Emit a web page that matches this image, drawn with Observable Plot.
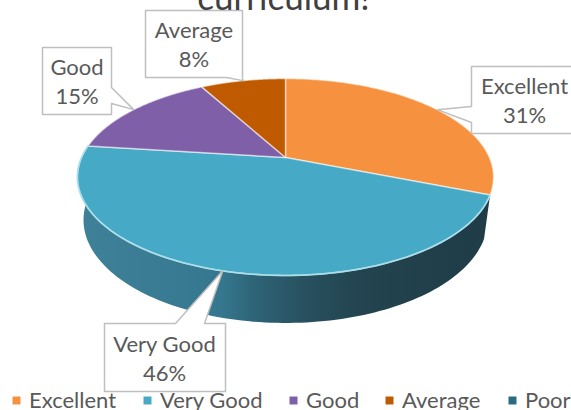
<!DOCTYPE html>
<html>
<head>
<meta charset="utf-8">
<script src="https://cdn.jsdelivr.net/npm/d3@7"></script>
<script src="https://cdn.jsdelivr.net/npm/@observablehq/plot@0.6"></script>
<style>html,body{margin:0;padding:0;background:#fff;overflow:hidden}svg{display:block}</style>
</head>
<body>
<div id="chart"></div>
<script>
const categories = ["Excellent", "Very Good", "Good", "Average", "Poor"];
const percents = [31, 46, 15, 8, 0];
const colors = ["#f6923f", "#46a9c6", "#7f60a8", "#c05a00", "#2a6b80"];
const titleText = "curriculum!";

// Drawing layout (separate from the data)
const W = 571, H = 410;
const top3d = {cx: 285, cy: 157, a: 204, b: 94.6, k: 0.198};
const bottom3d = {cx: 285, cy: 199, a: 198, b: 99, k: 0.198};
const callouts = {
  "Excellent": {x1: 471, x2: 574, y1: 66, y2: 133, tx: 524, side: "left", t1: 106, t2: 122},
  "Very Good": {x1: 104, x2: 225, y1: 323, y2: 391, tx: 164, side: "top", t1: 175, t2: 204},
  "Good": {x1: 42, x2: 111, y1: 47, y2: 114, tx: 76.5, side: "right", t1: 87, t2: 103},
  "Average": {x1: 145, x2: 242, y1: 10, y2: 77, tx: 193.5, side: "bottom", t1: 226, t2: 242}
};
const legendAt = {"Excellent": 16, "Very Good": 147, "Good": 293, "Average": 389, "Poor": 512};

const project = (g, theta) => {
  const u = Math.sin(theta), v = -Math.cos(theta), s = 1 / (1 - g.k * v);
  return [g.cx + g.a * u * s, g.cy + g.b * v * s];
};

// Angles clockwise from 12 o'clock, from the percentages
const arcs = d3.pie().sort(null).value(d => d)(percents).map((a, i) => ({
  name: categories[i], value: percents[i], start: a.startAngle, end: a.endAngle
}));
const angleSteps = (s, e) => d3.range(0, 121).map(i => s + (e - s) * i / 120);

const slicePts = arcs.filter(a => a.value > 0).flatMap(a => {
  const ring = [[top3d.cx, top3d.cy], ...angleSteps(a.start, a.end).map(t => project(top3d, t)), [top3d.cx, top3d.cy]];
  return ring.map(([x, y]) => ({x, y, name: a.name}));
});

const vg = arcs[1];
const wallTop = angleSteps(vg.start, vg.end).map(t => project(top3d, t));
const wallBottom = angleSteps(vg.start, vg.end).map(t => project(bottom3d, t)).reverse();
const wallPts = [...wallTop, ...wallBottom, wallTop[0]].map(([x, y]) => ({x, y}));
const rimPts = wallTop.map(([x, y]) => ({x, y}));

const calloutPts = arcs.filter(a => a.value > 0).flatMap(a => {
  const c = callouts[a.name];
  const tip = project(top3d, (a.start + a.end) / 2);
  let p;
  if (c.side === "left") p = [[c.x1, c.y1], [c.x2, c.y1], [c.x2, c.y2], [c.x1, c.y2], [c.x1, c.t2], tip, [c.x1, c.t1]];
  if (c.side === "right") p = [[c.x1, c.y1], [c.x2, c.y1], [c.x2, c.t1], tip, [c.x2, c.t2], [c.x2, c.y2], [c.x1, c.y2]];
  if (c.side === "top") p = [[c.x1, c.y1], [c.t1, c.y1], tip, [c.t2, c.y1], [c.x2, c.y1], [c.x2, c.y2], [c.x1, c.y2]];
  if (c.side === "bottom") p = [[c.x1, c.y1], [c.x2, c.y1], [c.x2, c.y2], tip, [c.t1, c.y2], [c.x1, c.y2]];
  return [...p, p[0]].map(([x, y]) => ({x, y, name: a.name}));
});
const labelRows = arcs.filter(a => a.value > 0).flatMap(a => {
  const c = callouts[a.name];
  const mid = (c.y1 + c.y2) / 2 + 1.5;
  return [
    {x: c.tx, y: mid - 14.5, text: a.name},
    {x: c.tx, y: mid + 14.5, text: a.value + "%"}
  ];
});
const legendRows = categories.map(name => ({name, x: legendAt[name]}));

const font = "Lato, Carlito, sans-serif";
const gradient = () => {
  const svgNS = "http://www.w3.org/2000/svg";
  const defs = document.createElementNS(svgNS, "defs");
  const g = document.createElementNS(svgNS, "linearGradient");
  g.setAttribute("id", "wall");
  [[0, "#3f8199"], [0.35, "#35778e"], [0.42, "#2e6679"], [0.55, "#28505e"], [0.7, "#22434f"], [1, "#1f3c47"]].forEach(([o, c]) => {
    const s = document.createElementNS(svgNS, "stop");
    s.setAttribute("offset", o); s.setAttribute("stop-color", c);
    g.appendChild(s);
  });
  defs.appendChild(g);
  return defs;
};

const chart = Plot.plot({
  width: W, height: H, margin: 0,
  x: {domain: [0, W], range: [0, W], axis: null},
  y: {domain: [0, H], range: [0, H], axis: null},
  color: {domain: categories, range: colors},
  style: {background: "#fff", fontFamily: font},
  marks: [
    gradient,
    Plot.line(wallPts, {x: "x", y: "y", fill: "url(#wall)", stroke: "none"}),
    Plot.line(slicePts, {x: "x", y: "y", z: "name", fill: "name", stroke: "#fff", strokeOpacity: 0.55, strokeWidth: 1.5, strokeLinejoin: "round"}),
    Plot.line(rimPts, {x: "x", y: "y", stroke: "#a9deea", strokeWidth: 1.6}),
    Plot.line(calloutPts, {x: "x", y: "y", z: "name", fill: "#fff", stroke: "#bfbfbf", strokeWidth: 1.5}),
    Plot.text(labelRows, {x: "x", y: "y", text: "text", fill: "#595959", fontSize: 22, fontFamily: font}),
    Plot.text([titleText], {x: () => 283, y: () => -2, text: d => d, fill: "#404040", fontSize: 35, fontFamily: font}),
    Plot.dot(legendRows, {x: "x", y: () => 400, fill: "name", symbol: "square", r: 4.5, stroke: "none"}),
    Plot.text(legendRows, {x: d => d.x + 12.5, y: () => 400, text: "name", fill: "#595959", fontSize: 22, textAnchor: "start", fontFamily: font})
  ]
});
document.getElementById("chart").appendChild(chart);
</script>
</body>
</html>
